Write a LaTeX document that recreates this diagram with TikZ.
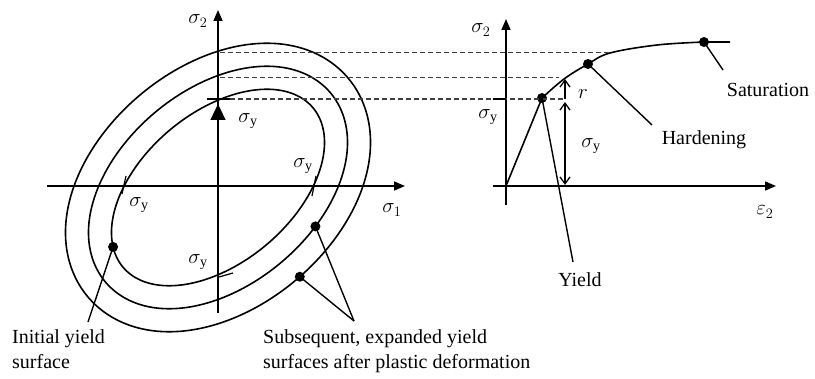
\documentclass[tikz,border=0pt]{standalone}
\usepackage{fontspec}
\setmainfont{Liberation Serif}
\usetikzlibrary{arrows.meta}
\begin{document}
\begin{tikzpicture}[x=1pt,y=-1pt,
  declare function={
    ellX(\t)=218+124*cos(\t)*cos(40)-75*sin(\t)*sin(40);
    ellY(\t)=187.5-(124*cos(\t)*sin(40)+75*sin(\t)*cos(40));
    elldX(\t)=-1.24*sin(\t)*cos(40)-0.75*cos(\t)*sin(40);
    elldY(\t)=1.24*sin(\t)*sin(40)-0.75*cos(\t)*cos(40);
    elln(\t)=sqrt(elldX(\t)^2+elldY(\t)^2);
    offX(\t,\d)=ellX(\t)-\d*elldY(\t)/elln(\t);
    offY(\t,\d)=ellY(\t)+\d*elldX(\t)/elln(\t);
  },
  axis/.style={line width=1.6pt,-{Triangle[length=11pt,width=9pt]}},
  curve/.style={line width=1.6pt},
  lead/.style={line width=1.4pt},
  guide/.style={line width=1.2pt,dash pattern=on 5pt off 3pt,black!75},
  dotmark/.style={circle,fill=black,inner sep=0pt,minimum size=10pt},
  lbl/.style={inner sep=0pt,font=\fontsize{20}{25}\selectfont},
  dimarrow/.style={line width=1.3pt,{Straight Barb[length=7pt,width=10pt]}-{Straight Barb[length=7pt,width=10pt]}}]
\useasboundingbox (0,0) rectangle (815,379);
\fontsize{20}{25}\selectfont
% ---------- left plot ----------
\coordinate (o) at (218,186);
\coordinate (s1a) at (47,186);
\coordinate (s1b) at (405,186);
\coordinate (s2a) at (218,313);
\coordinate (s2b) at (218,10);
\draw[axis] (s1a) -- (s1b);
\draw[axis] (s2a) -- (s2b);
\node[lbl] (ls2) at (198,21) {$\sigma_2$};
\node[lbl] (ls1) at (392,210) {$\sigma_1$};
% yield surfaces: initial and two expanded (offset) surfaces
\foreach \d in {0,23,46}{
  \draw[curve] plot[smooth cycle,samples=90,domain=0:356,variable=\t]
    ({offX(\t,\d)},{offY(\t,\d)});
}
% sigma_y markers on initial surface
\coordinate (tt1) at (207,99);
\coordinate (tt2) at (230,99);
\draw[line width=1.4pt] (tt1) -- (tt2);
\coordinate (tr1) at (316,176);
\coordinate (tr2) at (312,196);
\draw[line width=1.2pt] (tr1) -- (tr2);
\coordinate (tl1) at (126,176);
\coordinate (tl2) at (122,194);
\draw[line width=1.2pt] (tl1) -- (tl2);
\coordinate (tb1) at (219,277);
\coordinate (tb2) at (233,273);
\draw[line width=1.2pt] (tb1) -- (tb2);
% dotted arrow from origin
\coordinate (ytop) at (218,104);
\draw[line width=1.6pt,densely dotted] (o) -- (218,120);
\draw[line width=1pt,-{Triangle[length=16pt,width=15pt]}] (218,121) -- (ytop);
\node[lbl] (lsyt) at (248,121) {$\sigma_{\mathrm{y}}$};
\node[lbl] (lsyr) at (303,166) {$\sigma_{\mathrm{y}}$};
\node[lbl] (lsyl) at (139,205) {$\sigma_{\mathrm{y}}$};
\node[lbl] (lsyb) at (198,262) {$\sigma_{\mathrm{y}}$};
% points on surfaces
\node[dotmark] (d1) at ({offX(163,0)},{offY(163,0)}) {};
\node[dotmark] (d2) at ({offX(291,23)},{offY(291,23)}) {};
\node[dotmark] (d3) at ({offX(272,46)},{offY(272,46)}) {};
\coordinate (e1) at (88,322);
\coordinate (e2) at (354,321);
\draw[lead] (d1.center) -- (e1);
\draw[lead] (d2.center) -- (e2);
\draw[lead] (d3.center) -- (e2);
\node[lbl,anchor=north west,align=left] (tinit) at (12,329) {Initial yield\\surface};
\node[lbl,anchor=north west,align=left] (tsub) at (263,329) {Subsequent, expanded yield\\surfaces after plastic deformation};
% ---------- right plot ----------
\coordinate (O) at (506,186);
\coordinate (ea) at (493,186);
\coordinate (eb) at (776,186);
\coordinate (sa) at (506,205);
\coordinate (sb) at (506,19);
\draw[axis] (ea) -- (eb);
\draw[axis] (sa) -- (sb);
\node[lbl] (rs2) at (481,30) {$\sigma_2$};
\node[lbl] (re2) at (765,212) {$\varepsilon_2$};
% stress-strain curve
\node[dotmark] (Y) at (542,98) {};
\node[dotmark] (H) at (588,64) {};
\node[dotmark] (S) at (704,42) {};
\draw[curve] (O) -- (Y.center);
\draw[curve] plot[smooth,tension=0.6] coordinates {(542,98) (564,79) (588,64) (610,53) (657,45) (704,42)} -- (730,42);
% guide lines
\draw[guide] (220,52.5) -- (611,52.5);
\draw[guide] (220,77.5) -- (559,77.5);
\draw[guide] (230,99) -- (563,99);
\draw[line width=1.8pt] (493,99) -- (506,99);
% dimension arrows
\coordinate (r1) at (565,99);
\coordinate (r2) at (565,79);
\draw[line width=1.3pt,-{Straight Barb[length=7pt,width=10pt]}] (r1) -- (r2);
\coordinate (y1) at (565,102);
\coordinate (y2) at (565,185);
\draw[dimarrow] (y1) -- (y2);
\node[lbl] (lr) at (583,94) {$r$};
\node[lbl] (lsym) at (591,146) {$\sigma_{\mathrm{y}}$};
\node[lbl] (lsya) at (488,117) {$\sigma_{\mathrm{y}}$};
% leaders and labels
\coordinate (yl) at (573,262);
\coordinate (hl) at (652,125);
\coordinate (sl) at (723,70);
\draw[lead] (Y.center) -- (yl);
\draw[lead] (H.center) -- (hl);
\draw[lead] (S.center) -- (sl);
\node[lbl] (tY) at (580,280) {Yield};
\node[lbl] (tH) at (704,140) {Hardening};
\node[lbl] (tS) at (768,90) {Saturation};
\end{tikzpicture}
\end{document}
